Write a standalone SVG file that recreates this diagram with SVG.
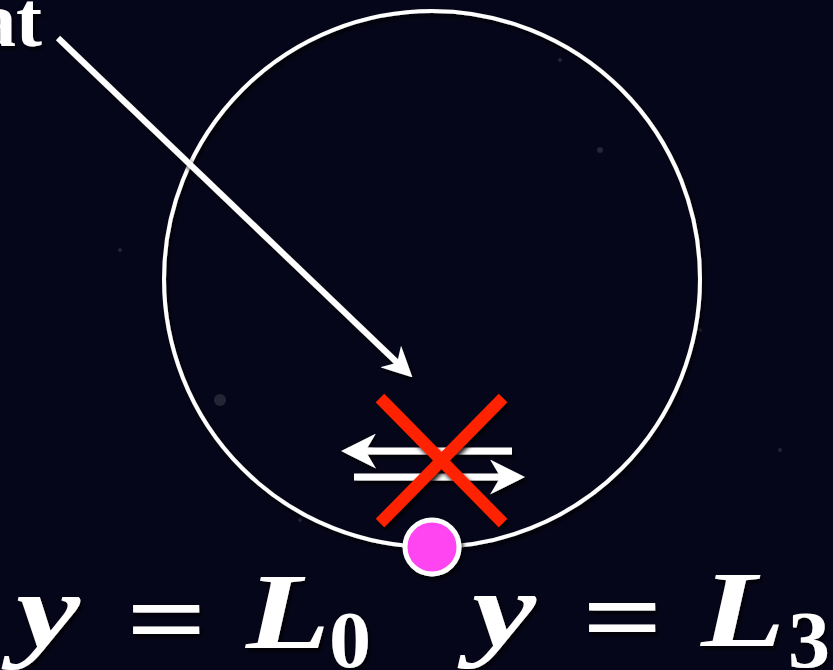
<svg xmlns="http://www.w3.org/2000/svg" width="833" height="670" viewBox="0 0 833 670">
  <defs>
    <filter id="sh" x="-20%" y="-20%" width="140%" height="140%">
      <feDropShadow dx="2" dy="3" stdDeviation="2" flood-color="#000" flood-opacity="0.9"/>
    </filter>
    <marker id="ah" viewBox="0 0 10 10" refX="8" refY="5" markerWidth="5" markerHeight="5" orient="auto" markerUnits="strokeWidth">
      <path d="M0,0 L10,5 L0,10 L3,5 Z" fill="#ffffff"/>
    </marker>
    <style>
      .wl { stroke: #ffffff; fill: none; }
      .math { font-family: "Liberation Serif", "DejaVu Serif", serif; font-style: italic; font-weight: bold; fill: #ffffff; font-size: 108px; }
      .op { font-family: "Liberation Serif", "DejaVu Serif", serif; font-weight: bold; fill: #ffffff; font-size: 108px; }
      .sub { font-family: "Liberation Serif", "DejaVu Serif", serif; font-weight: bold; fill: #ffffff; font-size: 80px; }
      .lbl { font-family: "Liberation Serif", serif; font-weight: bold; fill: #ffffff; }
    </style>
  </defs>
  <rect width="833" height="670" fill="#06061a"/>
  <g fill="#ffffff" opacity="0.12">
    <circle cx="600" cy="150" r="3"/>
    <circle cx="220" cy="400" r="6"/>
    <circle cx="700" cy="330" r="2"/>
    <circle cx="560" cy="60" r="2"/>
    <circle cx="300" cy="520" r="2"/>
    <circle cx="780" cy="450" r="2"/>
    <circle cx="120" cy="250" r="2"/>
  </g>

  <g id="ring" filter="url(#sh)">
    <circle class="wl" cx="432" cy="279" r="268" stroke-width="4"/>
  </g>

  <g id="label-top" filter="url(#sh)">
    <text class="lbl" x="42" y="46" font-size="78" text-anchor="end">at</text>
  </g>

  <g id="connectors" filter="url(#sh)">
    <line class="wl" x1="58" y1="38" x2="408" y2="373" stroke-width="6" marker-end="url(#ah)"/>
    <line class="wl" x1="512" y1="451" x2="348" y2="451" stroke-width="7" marker-end="url(#ah)"/>
    <line class="wl" x1="354" y1="477" x2="518" y2="477" stroke-width="7" marker-end="url(#ah)"/>
  </g>

  <g id="cross" filter="url(#sh)" stroke="#ff2200" stroke-width="12">
    <line x1="380" y1="398" x2="503" y2="523"/>
    <line x1="503" y1="398" x2="380" y2="523"/>
  </g>

  <g id="point" filter="url(#sh)">
    <circle cx="432" cy="547" r="27" fill="#ff44f2" stroke="#ffffff" stroke-width="5"/>
  </g>

  <g id="eq-left" filter="url(#sh)">
    <text class="math" x="16" y="647" textLength="64" lengthAdjust="spacingAndGlyphs">y</text>
    <text class="op" x="126" y="655" textLength="81" lengthAdjust="spacingAndGlyphs">=</text>
    <text class="math" x="246" y="648" textLength="84" lengthAdjust="spacingAndGlyphs">L</text>
    <text class="sub" x="329" y="667" textLength="42" lengthAdjust="spacingAndGlyphs">0</text>
  </g>
  <g id="eq-right" filter="url(#sh)">
    <text class="math" x="472" y="646" textLength="64" lengthAdjust="spacingAndGlyphs">y</text>
    <text class="op" x="582" y="653" textLength="81" lengthAdjust="spacingAndGlyphs">=</text>
    <text class="math" x="701" y="646" textLength="84" lengthAdjust="spacingAndGlyphs">L</text>
    <text class="sub" x="788" y="667" textLength="42" lengthAdjust="spacingAndGlyphs">3</text>
  </g>
</svg>
